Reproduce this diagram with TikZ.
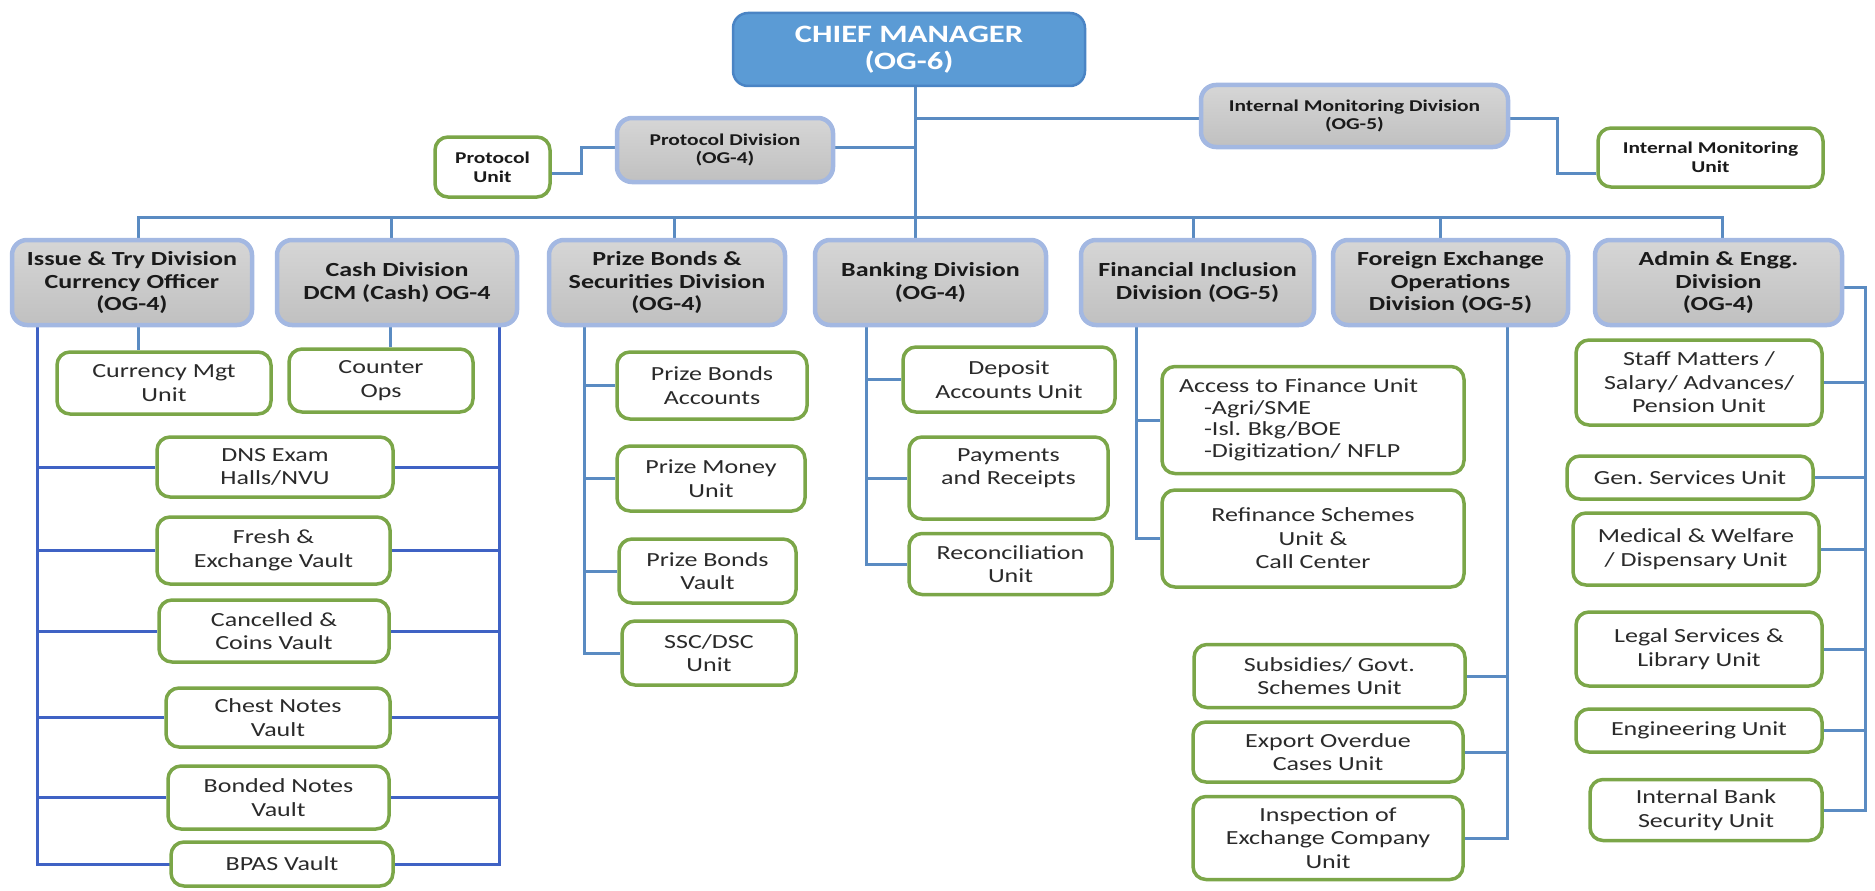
\documentclass[tikz,border=0pt]{standalone}
\usepackage{fontspec}
\setmainfont{Carlito}[FakeStretch=1.3]
\pgfdeclarelayer{bg}
\pgfsetlayers{bg,main}
\definecolor{chieffill}{HTML}{5B9BD5}
\definecolor{chiefline}{HTML}{4A84C4}
\definecolor{divtop}{HTML}{D6D6D6}
\definecolor{divbot}{HTML}{C0C0C0}
\definecolor{divline}{HTML}{A3B8E2}
\definecolor{ugreen}{HTML}{7BA648}
\definecolor{lnblue}{HTML}{5A8BC2}
\definecolor{lndark}{HTML}{3F62C4}
\definecolor{utext}{HTML}{2A2A2A}
\definecolor{dtext}{HTML}{1A1A1A}
\tikzset{
  wh/.style 2 args={minimum width=#1pt, minimum height=#2pt},
  chiefbox/.style={draw=chiefline, line width=2.5pt, fill=chieffill, rounded corners=15pt, align=center, inner sep=0pt, text=white, font=\fontsize{25}{27}\selectfont\bfseries},
  divbox/.style={draw=divline, line width=4.5pt, top color=divtop, bottom color=divbot, rounded corners=15pt, align=center, inner sep=0pt, text=dtext, font=\fontsize{20}{22.5}\selectfont\bfseries},
  smalldiv/.style={divbox, font=\fontsize{16.5}{18.5}\selectfont\bfseries},
  unitbox/.style={draw=ugreen, line width=3.5pt, fill=white, rounded corners=13pt, align=center, inner sep=0pt, text=utext, font=\fontsize{20}{23.5}\selectfont},
  boldunit/.style={unitbox, text=dtext, font=\fontsize{16.5}{19}\selectfont\bfseries},
  conn/.style={draw=lnblue, line width=3pt},
  connd/.style={draw=lndark, line width=3pt}
}
\begin{document}
\frenchspacing
\begin{tikzpicture}[x=1pt,y=-1pt]
\useasboundingbox (0,0) rectangle (1875,891);
% top
\node[chiefbox, wh={352}{73}] (chief) at (909,49.5) {CHIEF MANAGER\\(OG-6)};
\node[smalldiv, wh={216}{64}] (pdiv) at (725,150) {Protocol Division\\(OG-4)};
\node[boldunit, wh={115}{60}] (punit) at (492.5,167) {Protocol\\Unit};
\node[smalldiv, wh={307}{62}] (imd) at (1354.5,116) {Internal Monitoring Division\\(OG-5)};
\node[boldunit, wh={225}{59}] (imu) at (1710.5,157.5) {Internal Monitoring\\Unit};
% divisions
\node[divbox, wh={240}{85}] (d1) at (132,282.5) {Issue \& Try Division\\Currency Officer\\(OG-4)};
\node[divbox, wh={240}{85}] (d2) at (397,282.5) {Cash Division\\DCM (Cash) OG-4};
\node[divbox, wh={236}{85}] (d3) at (667,282.5) {Prize Bonds \&\\Securities Division\\(OG-4)};
\node[divbox, wh={231}{85}] (d4) at (930.5,282.5) {Banking Division\\(OG-4)};
\node[divbox, wh={233}{85}] (d5) at (1197.5,282.5) {Financial Inclusion\\Division (OG-5)};
\node[divbox, wh={235}{85}] (d6) at (1450.5,282.5) {Foreign Exchange\\Operations\\Division (OG-5)};
\node[divbox, wh={247}{85}] (d7) at (1718.5,282.5) {Admin \& Engg.\\Division\\(OG-4)};
% issue & cash units
\node[unitbox, wh={214}{62}] (ucm) at (164,383) {Currency Mgt\\Unit};
\node[unitbox, wh={184}{63}] (uco) at (381,380.5) {Counter\\Ops};
\node[unitbox, wh={236}{60}] (udns) at (275,467) {DNS Exam\\Halls/NVU};
\node[unitbox, wh={233}{67}] (ufresh) at (273.5,550.5) {Fresh \&\\Exchange Vault};
\node[unitbox, wh={230}{62}] (ucanc) at (274,631) {Cancelled \&\\Coins Vault};
\node[unitbox, wh={224}{59}] (uchest) at (278,717.5) {Chest Notes\\Vault};
\node[unitbox, wh={221}{63}] (ubond) at (278.5,797.5) {Bonded Notes\\Vault};
\node[unitbox, wh={222}{44}] (ubpas) at (282,864) {BPAS Vault};
% prize bonds units
\node[unitbox, wh={190}{67}] (upba) at (712,385.5) {Prize Bonds\\Accounts};
\node[unitbox, wh={188}{65}] (upmu) at (711,478.5) {Prize Money\\Unit};
\node[unitbox, wh={177}{64}] (upbv) at (707.5,571) {Prize Bonds\\Vault};
\node[unitbox, wh={174}{64}] (ussc) at (709,653) {SSC/DSC\\Unit};
% banking units
\node[unitbox, wh={212}{65}] (udep) at (1009,379.5) {Deposit\\Accounts Unit};
\node[unitbox, wh={199}{82}] (upay) at (1008.5,478) {Payments\\and Receipts\\[-8pt]\strut};
\node[unitbox, wh={203}{61}] (urec) at (1010.5,564) {Reconciliation\\Unit};
% financial inclusion units
\node[unitbox, align=left, text width=268pt, inner xsep=17pt, minimum height=107pt, font=\fontsize{20}{21.5}\selectfont] (uatf) at (1313,420) {Access to Finance Unit\\\hspace*{25pt}-Agri/SME\\\hspace*{25pt}-Isl. Bkg/BOE\\\hspace*{25pt}-Digitization/ NFLP};
\node[unitbox, wh={302}{97}] (uref) at (1313,538.5) {Refinance Schemes\\Unit \&\\Call Center};
% forex units
\node[unitbox, wh={271}{63}] (usub) at (1329.5,676) {Subsidies/ Govt.\\Schemes Unit};
\node[unitbox, wh={270}{60}] (uexp) at (1328,752) {Export Overdue\\Cases Unit};
\node[unitbox, wh={270}{83}] (uinsp) at (1328,838) {Inspection of\\Exchange Company\\Unit};
% admin units
\node[unitbox, wh={246}{85}] (ustaff) at (1699,382.5) {Staff Matters /\\Salary/ Advances/\\Pension Unit};
\node[unitbox, wh={246}{43}] (ugen) at (1690,477.5) {Gen. Services Unit};
\node[unitbox, wh={246}{72}] (umed) at (1696,549) {Medical \& Welfare\\/ Dispensary Unit};
\node[unitbox, wh={246}{74}] (ulegal) at (1699,649) {Legal Services \&\\Library Unit};
\node[unitbox, wh={246}{43}] (ueng) at (1699,730.5) {Engineering Unit};
\node[unitbox, wh={232}{61}] (uibs) at (1706,810) {Internal Bank\\Security Unit};
% coordinates
\coordinate (cm) at (915,217);
\coordinate (b1) at (138,217);
\coordinate (b2) at (391,217);
\coordinate (b3) at (674,217);
\coordinate (b5) at (1193,217);
\coordinate (b6) at (1440,217);
\coordinate (b7) at (1722,217);
\coordinate (pj) at (915,147);
\coordinate (pb) at (581,173);
\coordinate (ij) at (915,118);
\coordinate (ib) at (1557,118);
\coordinate (ib2) at (1557,173);
\coordinate (L) at (37,330);
\coordinate (R) at (499,330);
\coordinate (C) at (390,330);
\coordinate (P) at (584,330);
\coordinate (K) at (866,330);
\coordinate (FI) at (1136,330);
\coordinate (F) at (1507,330);
\coordinate (A) at (1865,287);
\begin{pgfonlayer}{bg}
% top structure
\draw[conn] (chief.south -| cm) -- (d4.north -| cm);
\draw[conn] (d1.north -| b1) -- (b1) -- (b7) -- (d7.north -| b7);
\foreach \b/\d in {b2/d2, b3/d3, b5/d5, b6/d6} \draw[conn] (\b) -- (\d.north -| \b);
\draw[conn] (pdiv.east |- pj) -- (pj);
\draw[conn] (punit.east |- pb) -- (pb) |- (pdiv.west |- pj);
\draw[conn] (ij) -- (imd.west |- ij);
\draw[conn] (imd.east |- ib) -- (ib) -- (ib2) -- (imu.west |- ib2);
% issue & cash
\draw[conn] (d1.south -| b1) -- (ucm.north -| b1);
\draw[conn] (d2.south -| C) -- (uco.north -| C);
\draw[connd] (d1.south -| L) -- (ubpas.west -| L) -- (ubpas.east -| R) -- (d2.south -| R);
\foreach \u in {udns, ufresh, ucanc, uchest, ubond} {
  \draw[connd] (\u.west -| L) -- (\u.west);
  \draw[connd] (\u.east) -- (\u.east -| R);
}
% prize
\draw[conn] (d3.south -| P) |- (ussc.west);
\foreach \u in {upba, upmu, upbv} \draw[conn] (\u.west -| P) -- (\u.west);
% banking
\draw[conn] (d4.south -| K) |- (urec.west);
\foreach \u in {udep, upay} \draw[conn] (\u.west -| K) -- (\u.west);
% financial inclusion
\draw[conn] (d5.south -| FI) |- (uref.west);
\draw[conn] (uatf.west -| FI) -- (uatf.west);
% forex
\draw[conn] (d6.south -| F) |- (uinsp.east);
\foreach \u in {usub, uexp} \draw[conn] (\u.east) -- (\u.east -| F);
% admin
\draw[conn] (d7.east |- A) -- (A) |- (uibs.east);
\foreach \u in {ustaff, ugen, umed, ulegal, ueng} \draw[conn] (\u.east) -- (\u.east -| A);
\end{pgfonlayer}
\end{tikzpicture}
\end{document}
